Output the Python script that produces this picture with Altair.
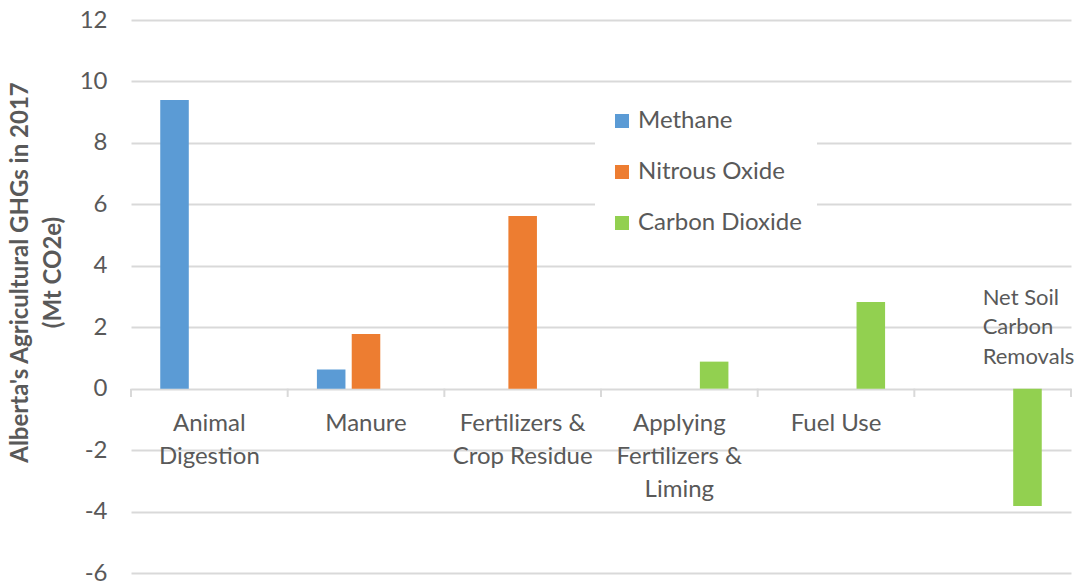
import altair as alt
import pandas as pd

# Emission sources (x categories) and the labels printed under the zero line
categories = [
    "Animal Digestion",
    "Manure",
    "Fertilizers & Crop Residue",
    "Applying Fertilizers & Liming",
    "Fuel Use",
    "Net Soil Carbon Removals",
]
category_labels = [
    "Animal\nDigestion",
    "Manure",
    "Fertilizers &\nCrop Residue",
    "Applying\nFertilizers &\nLiming",
    "Fuel Use",
    "",
]

# Gases (series) and their colours
gases = ["Methane", "Nitrous Oxide", "Carbon Dioxide"]
gas_colors = ["#5B9BD5", "#ED7D31", "#92D050"]

# Emissions in Mt CO2e per source (None = no bar)
methane = [9.4, 0.62, None, None, None, None]
nitrous_oxide = [None, 1.78, 5.62, None, None, None]
carbon_dioxide = [None, None, None, 0.88, 2.82, -3.82]

# Y axis ticks
y_ticks = [-6, -4, -2, 0, 2, 4, 6, 8, 10, 12]

annotation_text = "Net Soil\nCarbon\nRemovals"

FONT = "Lato"
TEXT_COLOR = "#595959"
GRID_COLOR = "#D9D9D9"

rows = []
for gas, series in zip(gases, [methane, nitrous_oxide, carbon_dioxide]):
    for cat, val in zip(categories, series):
        if val is not None:
            rows.append({"source": cat, "gas": gas, "value": val})
bars_df = pd.DataFrame(rows)

labels_df = pd.DataFrame({"source": categories, "label": category_labels})
note_df = pd.DataFrame({"source": [categories[-1]], "note": [annotation_text]})
edge_df = pd.DataFrame({"source": categories})

x_scale = alt.Scale(domain=categories, paddingInner=0, paddingOuter=0)
y_scale = alt.Scale(domain=[-6, 12], nice=False, zero=False)

bars = alt.Chart(bars_df).mark_bar().encode(
    x=alt.X("source:N", scale=x_scale, axis=None),
    xOffset=alt.XOffset(
        "gas:N",
        scale=alt.Scale(domain=gases, paddingInner=0.18, paddingOuter=0.84),
    ),
    y=alt.Y(
        "value:Q",
        scale=y_scale,
        axis=alt.Axis(
            values=y_ticks,
            labelExpr="'' + datum.value",
            grid=True,
            gridColor=GRID_COLOR,
            gridWidth=2,
            domain=False,
            ticks=False,
            labelFont=FONT,
            labelFontSize=24,
            labelColor=TEXT_COLOR,
            labelPadding=24,
            title=["Alberta's Agricultural GHGs in 2017", "(Mt CO2e)"],
            titleFont=FONT,
            titleFontSize=24,
            titleFontWeight="bold",
            titleColor=TEXT_COLOR,
            titleAngle=270,
            titleAlign="center",
            titleBaseline="top",
            titleLineHeight=33,
            titleX=-123,
            titleY=252,
        ),
    ),
    color=alt.Color(
        "gas:N",
        scale=alt.Scale(domain=gases, range=gas_colors),
        legend=alt.Legend(
            orient="none",
            legendX=464,
            legendY=74,
            title=None,
            fillColor="white",
            padding=15,
            symbolType="square",
            symbolSize=196,
            symbolStrokeWidth=0,
            labelFont=FONT,
            labelFontSize=24,
            labelColor=TEXT_COLOR,
            labelOffset=4,
            labelLimit=400,
            rowPadding=27,
        ),
    ),
)

# Category boundary ticks hanging below the zero line
edge_ticks = alt.Chart(edge_df).mark_rule(color=GRID_COLOR, strokeWidth=2).encode(
    x=alt.X("source:N", scale=x_scale, axis=None, bandPosition=0),
    y=alt.datum(0),
    y2=alt.datum(-0.27),
)
end_tick = alt.Chart(edge_df.tail(1)).mark_rule(color=GRID_COLOR, strokeWidth=2).encode(
    x=alt.X("source:N", scale=x_scale, axis=None, bandPosition=1),
    y=alt.datum(0),
    y2=alt.datum(-0.27),
)

# Category names written just under the zero line
cat_text = alt.Chart(labels_df).mark_text(
    font=FONT,
    fontSize=24,
    color=TEXT_COLOR,
    align="center",
    baseline="alphabetic",
    lineBreak="\n",
    lineHeight=33,
    dy=42,
).encode(
    x=alt.X("source:N", scale=x_scale, axis=None),
    y=alt.datum(0),
    text="label:N",
)

# Label for the soil-carbon bar, above the zero line
note_text = alt.Chart(note_df).mark_text(
    font=FONT,
    fontSize=22,
    color=TEXT_COLOR,
    align="left",
    baseline="alphabetic",
    lineBreak="\n",
    lineHeight=29.5,
    dx=-10,
    dy=-84,
).encode(
    x=alt.X("source:N", scale=x_scale, axis=None),
    y=alt.datum(0),
    text="note:N",
)

chart = (
    alt.layer(bars, edge_ticks, end_tick, cat_text, note_text)
    .properties(
        width=940,
        height=553,
        autosize=alt.AutoSizeParams(type="none"),
        padding={"left": 131, "top": 20, "right": 7, "bottom": 10},
        background="white",
    )
    .configure_view(stroke=None)
)

chart.save("out.html", embed_options={"renderer": "svg", "actions": False})
